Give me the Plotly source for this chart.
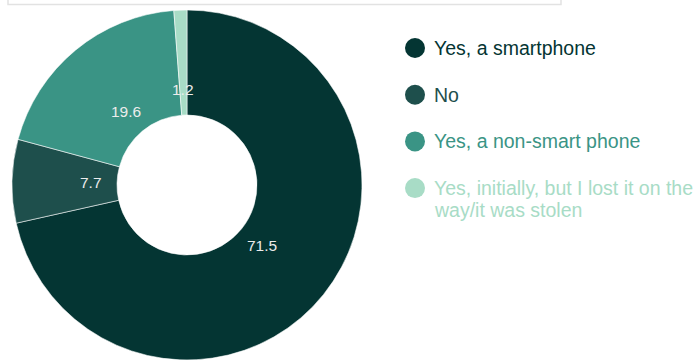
import math
import plotly.graph_objects as go

labels = ["Yes, a smartphone", "No", "Yes, a non-smart phone",
          "Yes, initially, but I lost it on the way/it was stolen"]
legend_text = ["Yes, a smartphone", "No", "Yes, a non-smart phone",
               "Yes, initially, but I lost it on the<br>way/it was stolen"]
values = [71.5, 7.7, 19.6, 1.2]
colors = ["#043533", "#1e4f4c", "#3a9485", "#a8dcc6"]

W, H = 697, 360
cx, cy, R = 187, 185, 175
hole = 0.40
FONT = "Liberation Sans, Arial, sans-serif"

fig = go.Figure()
fig.add_trace(go.Pie(
    labels=labels, values=values, sort=False, direction="clockwise",
    rotation=0, hole=hole, textinfo="none", showlegend=False,
    marker=dict(colors=colors, line=dict(color="rgba(255,255,255,0.7)", width=0.8)),
    domain=dict(x=[(cx - R) / W, (cx + R) / W], y=[(H - cy - R) / H, (H - cy + R) / H]),
    hoverinfo="label+value",
))

# data labels placed at the middle angle of each slice
total = sum(values)
cum = 0.0
r_lab = 96
annotations = []
for v in values:
    mid = (cum + v / 2) / total * 2 * math.pi
    cum += v
    px = cx + r_lab * math.sin(mid)
    py = cy - r_lab * math.cos(mid)
    annotations.append(dict(
        x=px / W, y=1 - py / H, xref="paper", yref="paper", showarrow=False,
        text=f"{v}", font=dict(family=FONT, size=15.5, color="#ececec"),
        xanchor="center", yanchor="middle"))

# legend
shapes = []
leg_x, leg_y0, leg_dy, dot_r, line_h = 415, 48, 46.7, 10, 22
for i, (t, c) in enumerate(zip(legend_text, colors)):
    yy = leg_y0 + i * leg_dy
    shapes.append(dict(type="circle", xref="paper", yref="paper",
                       x0=(leg_x - dot_r) / W, x1=(leg_x + dot_r) / W,
                       y0=1 - (yy + dot_r) / H, y1=1 - (yy - dot_r) / H,
                       fillcolor=c, line=dict(width=0)))
    for j, part in enumerate(t.split("<br>")):
        annotations.append(dict(
            x=432 / W, y=1 - (yy + j * line_h) / H, xref="paper", yref="paper",
            showarrow=False, text=part, align="left", xanchor="left", yanchor="middle",
            font=dict(family=FONT, size=19.5, color=c)))

# top frame remnant
shapes.append(dict(type="rect", xref="paper", yref="paper",
                   x0=8 / W, x1=561 / W, y0=1 - 4.5 / H, y1=1.2,
                   line=dict(color="#e2e2e2", width=1.5), fillcolor="rgba(0,0,0,0)"))

fig.update_layout(
    width=W, height=H, margin=dict(l=0, r=0, t=0, b=0),
    paper_bgcolor="white", plot_bgcolor="white",
    annotations=annotations, shapes=shapes,
    font=dict(family=FONT),
)
fig.write_html("out.html")
